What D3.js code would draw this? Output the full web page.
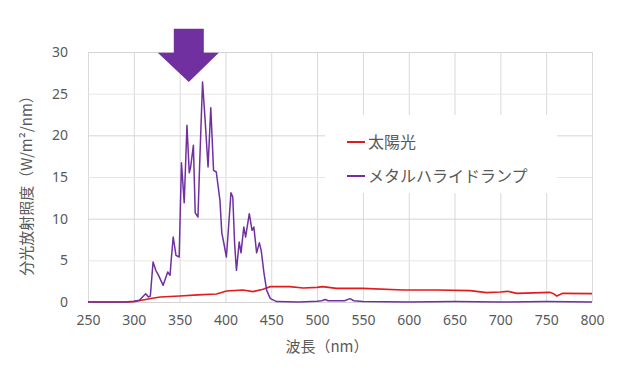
<!DOCTYPE html>
<html>
<head>
<meta charset="utf-8">
<script src="https://cdn.jsdelivr.net/npm/d3@7"></script>
<style>
  body { margin: 0; background: #fff; }
  text { font-family: "Noto Sans CJK JP", "Noto Sans", sans-serif; fill: #595959; }
</style>
</head>
<body>
<div class="chart"></div>
<script>
// wavelengths (nm) and spectral irradiance (W/m2/nm)
var sunWl  = [250, 295, 300, 310, 320, 329, 350, 370, 390, 395, 401, 419, 430, 441, 449, 470, 485, 500, 506, 521, 550, 594, 630, 667, 685, 700, 708, 718, 754, 758, 761.5, 768, 800];
var sunVal = [0, 0, 0.05, 0.25, 0.45, 0.6, 0.72, 0.85, 0.96, 1.1, 1.32, 1.44, 1.25, 1.54, 1.84, 1.84, 1.68, 1.75, 1.84, 1.64, 1.64, 1.44, 1.44, 1.36, 1.12, 1.2, 1.28, 1.04, 1.16, 1.0, 0.72, 1.04, 1.0];

var mhWl  = [250, 290, 300, 306, 313, 316, 318, 321, 324, 327, 332, 337, 339.5, 341, 343, 346, 349.5, 352, 355, 358, 360.5, 362, 365, 367, 370, 372, 375, 378, 381, 384, 387, 390, 394, 396, 398, 401, 403, 406, 408, 410, 412, 415, 417, 420, 422, 426, 429, 431, 434, 437, 439, 442, 445, 449, 456, 480, 500, 505, 509, 512, 530, 536, 540, 550, 600, 650, 700, 750, 800];
var mhVal = [0, 0, 0.1, 0.2, 1.0, 0.6, 0.7, 4.8, 3.8, 3.2, 2.0, 3.6, 3.2, 5.3, 7.8, 5.6, 5.4, 16.7, 11.9, 21.2, 15.5, 16.2, 18.8, 10.7, 10.2, 17, 26.4, 21.5, 16.2, 23.3, 15.8, 15.6, 12.2, 8.3, 7.2, 5.4, 8.4, 13.1, 12.6, 7, 3.8, 7.2, 5.9, 9.0, 7.8, 10.6, 8.6, 9.0, 5.9, 7.1, 6.2, 3.5, 1.4, 0.4, 0.05, 0, 0.1, 0.15, 0.3, 0.15, 0.15, 0.4, 0.15, 0.05, 0, 0.05, 0, 0.05, 0];

var xTicks = [250, 300, 350, 400, 450, 500, 550, 600, 650, 700, 750, 800];
var yTicks = [0, 5, 10, 15, 20, 25, 30];
var seriesNames = ["太陽光", "メタルハライドランプ"];
var seriesColors = ["#e31b1b", "#7030a0"];

var W = 622, H = 373;
var m = {left: 88, right: 30, top: 52, bottom: 71};

var svg = d3.select(".chart").append("svg")
    .attr("width", W)
    .attr("height", H);

var x = d3.scaleLinear().domain([250, 800]).range([m.left, W - m.right]);
var y = d3.scaleLinear().domain([0, 30]).range([H - m.bottom, m.top]);

// grid
svg.append("g")
    .attr("transform", "translate(0," + (H - m.bottom) + ")")
    .call(d3.axisBottom(x).tickValues(xTicks).tickSize(-(H - m.top - m.bottom)).tickFormat(""))
    .call(function(g){ g.select(".domain").remove(); })
    .selectAll("line").attr("stroke", "#d9d9d9");

svg.append("g")
    .attr("transform", "translate(" + m.left + ",0)")
    .call(d3.axisLeft(y).tickValues(yTicks).tickSize(-(W - m.left - m.right)).tickFormat(""))
    .call(function(g){ g.select(".domain").remove(); })
    .selectAll("line").attr("stroke", function(d){ return d % 10 === 0 ? "#d4d4d4" : "#e6e6e6"; });

// tick labels
var xAx = svg.append("g")
    .attr("transform", "translate(0," + (H - m.bottom) + ")")
    .call(d3.axisBottom(x).tickValues(xTicks).tickSize(0).tickPadding(13));
xAx.select(".domain").remove();
xAx.selectAll("text").attr("font-size", "14px").style("font-family", '"Noto Sans", sans-serif');

var yAx = svg.append("g")
    .attr("transform", "translate(" + m.left + ",0)")
    .call(d3.axisLeft(y).tickValues(yTicks).tickSize(0).tickPadding(20));
yAx.select(".domain").remove();
yAx.selectAll("text").attr("font-size", "14px").style("font-family", '"Noto Sans", sans-serif');

// legend box (hides grid)
svg.append("rect")
    .attr("x", 325).attr("y", 115)
    .attr("width", 232).attr("height", 78)
    .attr("fill", "#fff");

// lines
var line = d3.line()
    .x(function(d){ return x(d[0]); })
    .y(function(d){ return y(d[1]); });

var sun = d3.zip(sunWl, sunVal);
var mh = d3.zip(mhWl, mhVal);

svg.append("path")
    .datum(sun)
    .attr("d", line)
    .attr("fill", "none")
    .attr("stroke", seriesColors[0])
    .attr("stroke-width", 1.6);

svg.append("path")
    .datum(mh)
    .attr("d", line)
    .attr("fill", "none")
    .attr("stroke", seriesColors[1])
    .attr("stroke-width", 1.5)
    .attr("stroke-linejoin", "round");

// legend
seriesNames.forEach(function(name, i){
    var ly = 142 + i * 34;
    svg.append("line")
        .attr("x1", 347).attr("x2", 365)
        .attr("y1", ly).attr("y2", ly)
        .attr("stroke", seriesColors[i])
        .attr("stroke-width", 2);
    svg.append("text")
        .attr("x", 368).attr("y", ly)
        .attr("dy", "0.35em")
        .attr("font-size", "16px")
        .text(name);
});

// axis titles
svg.append("text")
    .attr("x", 327).attr("y", 347)
    .attr("text-anchor", "middle")
    .attr("dy", "0.35em")
    .attr("font-size", "15px")
    .text("波長（nm）");

svg.append("text")
    .attr("transform", "translate(27,182) rotate(-90)")
    .attr("text-anchor", "middle")
    .attr("dy", "0.35em")
    .attr("font-size", "15px")
    .text("分光放射照度（W/m²/nm）");

// arrow pointing at the peak region
var ax = x(360), aTop = y(32.8), aNeck = y(29.9), aTip = y(26.4);
svg.append("path")
    .attr("d", "M" + (ax - 15) + "," + aTop +
               "L" + (ax + 15) + "," + aTop +
               "L" + (ax + 15) + "," + aNeck +
               "L" + (ax + 30) + "," + aNeck +
               "L" + ax + "," + aTip +
               "L" + (ax - 31) + "," + aNeck +
               "L" + (ax - 15) + "," + aNeck + "Z")
    .attr("fill", "#7030a0");
</script>
</body>
</html>
